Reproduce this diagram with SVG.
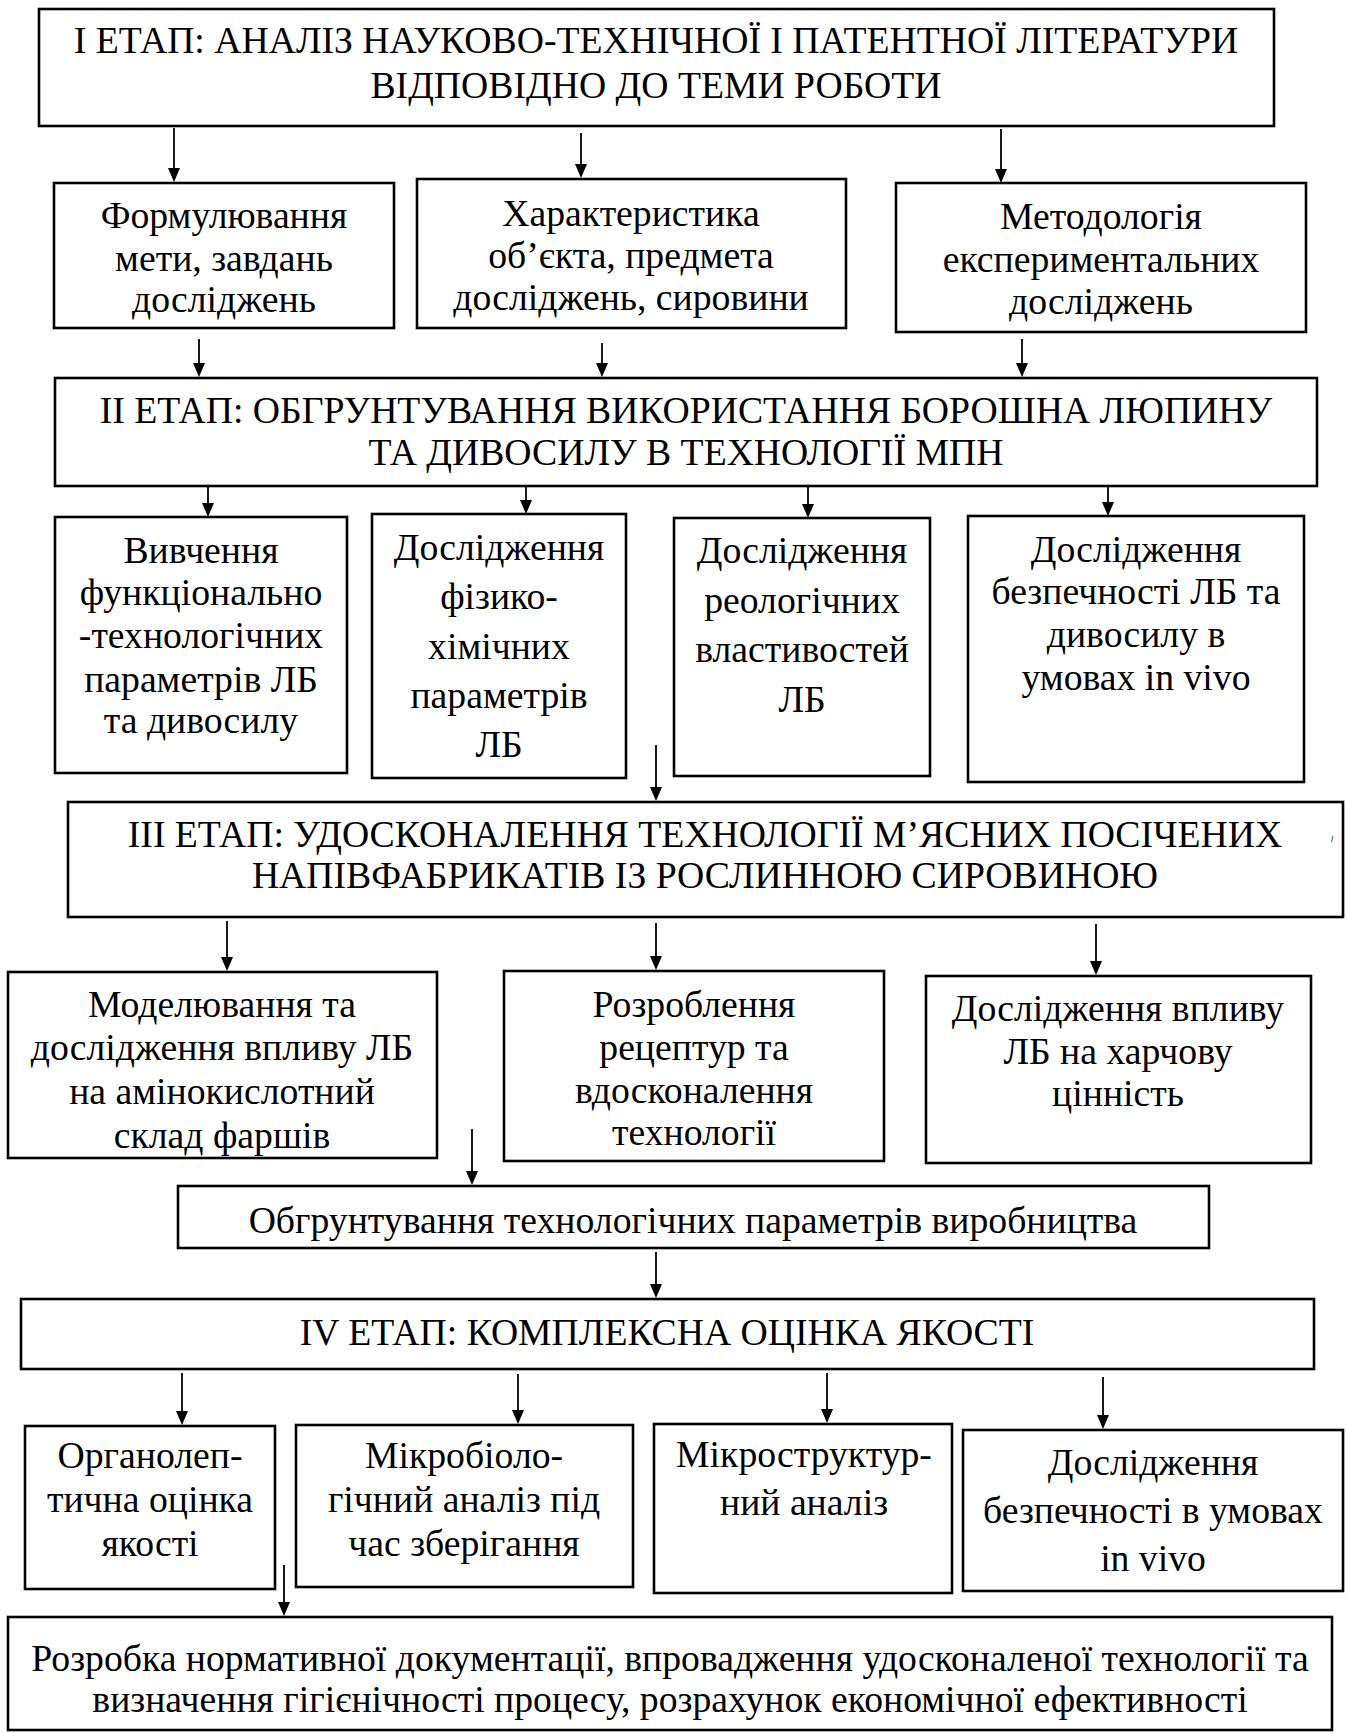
<svg xmlns="http://www.w3.org/2000/svg" width="1347" height="1733" viewBox="0 0 1347 1733">
<style>
.box{fill:#fff;stroke:#000;stroke-width:2.6}
.t{font-family:"Liberation Serif","Times New Roman",serif;font-size:37.7px;fill:#000;text-anchor:middle}
.c{stroke:#000;stroke-width:1.8;fill:none}
</style>
<defs>
<marker id="ah" viewBox="0 0 14 12" refX="4" refY="6" markerWidth="14" markerHeight="12" markerUnits="userSpaceOnUse" orient="auto">
<path d="M0,0 L14,6 L0,12 z" fill="#000"/>
</marker>
<clipPath id="clipM"><rect x="8" y="972" width="429" height="184"/></clipPath>
</defs>
<rect width="1347" height="1733" fill="#fff"/>

<g id="stage1">
<rect class="box" x="39" y="9" width="1235" height="117"/>
<g class="t">
<text x="656" y="53">I ЕТАП: АНАЛІЗ НАУКОВО-ТЕХНІЧНОЇ І ПАТЕНТНОЇ ЛІТЕРАТУРИ</text>
<text x="656" y="98">ВІДПОВІДНО ДО ТЕМИ РОБОТИ</text>
</g>
</g>
<g id="n-formul">
<rect class="box" x="54" y="183" width="340" height="145"/>
<g class="t">
<text x="224" y="228">Формулювання</text>
<text x="224" y="271">мети, завдань</text>
<text x="224" y="312">досліджень</text>
</g>
</g>
<g id="n-kharakt">
<rect class="box" x="417" y="179" width="429" height="149"/>
<g class="t">
<text x="631" y="226">Характеристика</text>
<text x="631" y="268">об’єкта, предмета</text>
<text x="631" y="310">досліджень, сировини</text>
</g>
</g>
<g id="n-metod">
<rect class="box" x="896" y="183" width="410" height="149"/>
<g class="t">
<text x="1101" y="229">Методологія</text>
<text x="1101" y="272">експериментальних</text>
<text x="1101" y="314">досліджень</text>
</g>
</g>

<g id="stage2">
<rect class="box" x="55" y="378" width="1262" height="108"/>
<g class="t">
<text x="686" y="423">II ЕТАП: ОБГРУНТУВАННЯ ВИКОРИСТАННЯ БОРОШНА ЛЮПИНУ</text>
<text x="686" y="465">ТА ДИВОСИЛУ В ТЕХНОЛОГІЇ МПН</text>
</g>
</g>
<g id="n-vyvch">
<rect class="box" x="55" y="517" width="292" height="256"/>
<g class="t">
<text x="201" y="563">Вивчення</text>
<text x="201" y="605">функціонально</text>
<text x="201" y="648">-технологічних</text>
<text x="201" y="692">параметрів ЛБ</text>
<text x="201" y="733">та дивосилу</text>
</g>
</g>
<g id="n-fizyko">
<rect class="box" x="372" y="514" width="254" height="264"/>
<g class="t">
<text x="499" y="560">Дослідження</text>
<text x="499" y="609">фізико-</text>
<text x="499" y="659">хімічних</text>
<text x="499" y="708">параметрів</text>
<text x="499" y="757">ЛБ</text>
</g>
</g>
<g id="n-reol">
<rect class="box" x="674" y="518" width="256" height="258"/>
<g class="t">
<text x="802" y="563">Дослідження</text>
<text x="802" y="613">реологічних</text>
<text x="802" y="662">властивостей</text>
<text x="802" y="712">ЛБ</text>
</g>
</g>
<g id="n-bezp1">
<rect class="box" x="968" y="516" width="336" height="266"/>
<g class="t">
<text x="1136" y="562">Дослідження</text>
<text x="1136" y="604">безпечності ЛБ та</text>
<text x="1136" y="647">дивосилу в</text>
<text x="1136" y="690">умовах in vivo</text>
</g>
</g>

<g id="stage3">
<rect class="box" x="68" y="802" width="1275" height="115"/>
<g class="t">
<text x="705" y="847">III ЕТАП: УДОСКОНАЛЕННЯ ТЕХНОЛОГІЇ М’ЯСНИХ ПОСІЧЕНИХ</text>
<text x="705" y="888">НАПІВФАБРИКАТІВ ІЗ РОСЛИННОЮ СИРОВИНОЮ</text>
</g>
<path d="M1333,836 L1331.5,842" stroke="#4a7ebb" stroke-width="1.2"/>
</g>
<g id="n-model">
<rect class="box" x="8" y="972" width="429" height="186"/>
<g clip-path="url(#clipM)">
<g class="t">
<text x="222" y="1017">Моделювання та</text>
<text x="222" y="1060">дослідження впливу ЛБ</text>
<text x="222" y="1104">на амінокислотний</text>
<text x="222" y="1148">склад фаршів</text>
</g>
</g>
</g>
<g id="n-rozrob">
<rect class="box" x="504" y="971" width="380" height="190"/>
<g class="t">
<text x="694" y="1017">Розроблення</text>
<text x="694" y="1060">рецептур та</text>
<text x="694" y="1103">вдосконалення</text>
<text x="694" y="1145">технології</text>
</g>
</g>
<g id="n-kharch">
<rect class="box" x="926" y="976" width="385" height="187"/>
<g class="t">
<text x="1118" y="1021">Дослідження впливу</text>
<text x="1118" y="1064">ЛБ на харчову</text>
<text x="1118" y="1106">цінність</text>
</g>
</g>
<g id="n-obgr">
<rect class="box" x="178" y="1186" width="1031" height="62"/>
<g class="t">
<text x="693" y="1233">Обгрунтування технологічних параметрів виробництва</text>
</g>
</g>

<g id="stage4">
<rect class="box" x="21" y="1299" width="1293" height="70"/>
<g class="t">
<text x="667" y="1345">IV ЕТАП: КОМПЛЕКСНА ОЦІНКА ЯКОСТІ</text>
</g>
</g>
<g id="n-organ">
<rect class="box" x="25" y="1426" width="250" height="163"/>
<g class="t">
<text x="150" y="1468">Органолеп-</text>
<text x="150" y="1512">тична оцінка</text>
<text x="150" y="1556">якості</text>
</g>
</g>
<g id="n-mikrob">
<rect class="box" x="296" y="1425" width="337" height="162"/>
<g class="t">
<text x="464" y="1468">Мікробіоло-</text>
<text x="464" y="1512">гічний аналіз під</text>
<text x="464" y="1556">час зберігання</text>
</g>
</g>
<g id="n-mikrostr">
<rect class="box" x="654" y="1424" width="298" height="169"/>
<g class="t">
<text x="804" y="1467">Мікроструктур-</text>
<text x="804" y="1515">ний аналіз</text>
</g>
</g>
<g id="n-bezp2">
<rect class="box" x="963" y="1430" width="380" height="161"/>
<g class="t">
<text x="1153" y="1475">Дослідження</text>
<text x="1153" y="1523">безпечності в умовах</text>
<text x="1153" y="1571">in vivo</text>
</g>
</g>
<g id="n-final">
<rect class="box" x="8" y="1617" width="1324" height="113"/>
<g class="t">
<text x="670" y="1671">Розробка нормативної документації, впровадження удосконаленої технології та</text>
<text x="670" y="1712">визначення гігієнічності процесу, розрахунок економічної ефективності</text>
</g>
</g>

<g id="connectors" class="c">
<line x1="174" y1="128" x2="174" y2="172" marker-end="url(#ah)"/>
<line x1="581" y1="133" x2="581" y2="168" marker-end="url(#ah)"/>
<line x1="1001" y1="129" x2="1001" y2="173" marker-end="url(#ah)"/>
<line x1="199" y1="339" x2="199" y2="367" marker-end="url(#ah)"/>
<line x1="602" y1="343" x2="602" y2="367" marker-end="url(#ah)"/>
<line x1="1022" y1="339" x2="1022" y2="367" marker-end="url(#ah)"/>
<line x1="208" y1="487" x2="208" y2="507" marker-end="url(#ah)"/>
<line x1="526" y1="487" x2="526" y2="504" marker-end="url(#ah)"/>
<line x1="808" y1="487" x2="808" y2="508" marker-end="url(#ah)"/>
<line x1="1108" y1="487" x2="1108" y2="506" marker-end="url(#ah)"/>
<line x1="656" y1="745" x2="656" y2="791" marker-end="url(#ah)"/>
<line x1="227" y1="921" x2="227" y2="961" marker-end="url(#ah)"/>
<line x1="656" y1="923" x2="656" y2="960" marker-end="url(#ah)"/>
<line x1="1096" y1="924" x2="1096" y2="965" marker-end="url(#ah)"/>
<line x1="472" y1="1129" x2="472" y2="1175" marker-end="url(#ah)"/>
<line x1="656" y1="1252" x2="656" y2="1288" marker-end="url(#ah)"/>
<line x1="182" y1="1373" x2="182" y2="1415" marker-end="url(#ah)"/>
<line x1="518" y1="1374" x2="518" y2="1414" marker-end="url(#ah)"/>
<line x1="827" y1="1373" x2="827" y2="1413" marker-end="url(#ah)"/>
<line x1="1103" y1="1377" x2="1103" y2="1419" marker-end="url(#ah)"/>
<line x1="284" y1="1565" x2="284" y2="1606" marker-end="url(#ah)"/>
</g>
</svg>
